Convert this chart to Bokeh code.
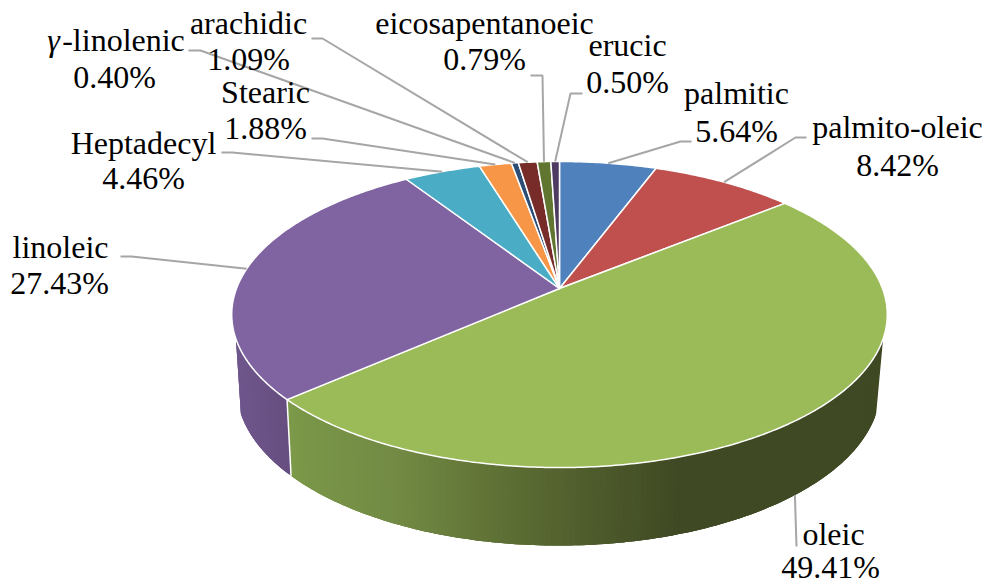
import numpy as np
from bokeh.plotting import figure
from bokeh.models import Range1d
from bokeh.core.properties import value
from bokeh.embed import file_html
from bokeh.resources import INLINE

names = ["palmitic", "palmito-oleic", "oleic", "linoleic", "Heptadecyl", "Stearic",
         "-linolenic", "arachidic", "eicosapentanoeic", "erucic"]
values = [5.64, 8.42, 49.41, 27.43, 4.46, 1.88, 0.40, 1.09, 0.79, 0.50]
labels = ["5.64%", "8.42%", "49.41%", "27.43%", "4.46%", "1.88%", "0.40%", "1.09%", "0.79%", "0.50%"]
colors = ["#4F81BD", "#C0504D", "#9BBB59", "#8064A2", "#4BACC6", "#F79646",
          "#2C4D75", "#772C2A", "#5F7530", "#4D3B62"]

# layout: label centres and baselines (name line, value line)
name_pos = [(736, 103), (897, 137), (833, 544), (60, 257), (143, 153), (265, 102),
            (123, 50), (248, 33), (484, 33), (627, 55)]
value_pos = [(736, 141), (897, 175), (830, 577), (59, 293), (143, 188), (265, 138),
             (114, 87), (248, 69), (484, 69), (627, 92)]
# layout: leader line label end and elbow
lead_end = [(691, 141), (806, 137), (796, 546), (120, 256), (221, 152), (311, 138),
            (188, 50), (311, 38), (530, 75), (582, 93)]
lead_elbow = [(680, 141), (795, 137), (796, 546), (131, 256), (232, 152), (322, 138),
              (200, 50), (322, 38), (542, 75), (570, 93)]

APEX = (559.0, 288.0)
SX, SY, K = 323.0, 148.6, 0.17
TOP = (559.0, 314.0, 328.0, 153.0)
BOT = (558.0, 388.0, 322.0, 157.0)
EY_MIN = 0.157
GREEN_X = [290, 300, 400, 500, 583, 680, 890]
GREEN_RGB = [(124, 155, 74), (122, 151, 72), (114, 138, 68), (95, 113, 53), (80, 94, 45), (63, 73, 35), (63, 73, 35)]
PURPLE_X = [230, 290]
PURPLE_RGB = [(112, 88, 142), (103, 78, 128)]
TEXT_SHIFT = -11


def top_pt(pct):
    t = np.radians(np.asarray(pct, dtype=float) * 3.6)
    x, y = np.sin(t), np.cos(t)
    d = 1 + K * y
    return APEX[0] + SX * x / d, APEX[1] - SY * y / d


def to_bottom(px, py):
    ex = (px - TOP[0]) / TOP[2]
    ey = (py - TOP[1]) / TOP[3]
    return BOT[0] + BOT[2] * ex, BOT[1] + BOT[3] * ey


def shade(x, xs, rgb):
    c = [int(round(np.interp(x, xs, [v[i] for v in rgb]))) for i in range(3)]
    return "#%02x%02x%02x" % tuple(c)


total = sum(values)
scale = 100.0 / total
cum = np.concatenate([[0], np.cumsum(values)]) * scale

W, H = 985, 585
p = figure(width=W, height=H, output_backend="svg", toolbar_location=None,
           x_range=Range1d(0, W), y_range=Range1d(H, 0), min_border=0)
p.axis.visible = False
p.grid.visible = False
p.outline_line_color = None
p.background_fill_color = "white"

# side wall: oleic and linoleic only are visible; each quad overlaps the next
xs_q, ys_q, col_q = [], [], []
for idx, gx, grgb in [(3, PURPLE_X, PURPLE_RGB), (2, GREEN_X, GREEN_RGB)]:
    ts = np.linspace(cum[idx], cum[idx + 1], 200)
    px, py = top_pt(ts)
    keep = (py - TOP[1]) / TOP[3] >= EY_MIN
    px, py = px[keep], py[keep]
    qx, qy = to_bottom(px, py)
    for i in range(len(px) - 1):
        j = min(i + 3, len(px) - 1)
        xs_q.append(list(px[i:j + 1]) + list(qx[i:j + 1][::-1]))
        ys_q.append(list(py[i:j + 1]) + list(qy[i:j + 1][::-1]))
        col_q.append(shade((px[i] + qx[i]) / 2, gx, grgb))
p.patches(xs_q, ys_q, fill_color=col_q, line_color=None)

# separator between the two side walls
sx, sy = top_pt(cum[3])
bx, by = to_bottom(sx, sy)
p.line([sx, bx], [sy, by], line_color="white", line_width=1.5)

# top face
xs_t, ys_t = [], []
for i in range(len(values)):
    ts = np.linspace(cum[i], cum[i + 1], max(4, int(values[i] * 6)))
    ax, ay = top_pt(ts)
    xs_t.append([APEX[0]] + list(ax))
    ys_t.append([APEX[1]] + list(ay))
p.patches(xs_t, ys_t, fill_color=colors, line_color="white", line_width=1.5, line_join="round")

# leader lines
xs_l, ys_l = [], []
for i in range(len(values)):
    mid = (cum[i] + cum[i + 1]) / 2
    ax, ay = top_pt(mid)
    if (ay - TOP[1]) / TOP[3] >= EY_MIN:
        ax, ay = to_bottom(ax, ay)
    xs_l.append([lead_end[i][0], lead_elbow[i][0], ax])
    ys_l.append([lead_end[i][1], lead_elbow[i][1], ay])
p.multi_line(xs_l, ys_l, line_color="#A6A6A6", line_width=2)

font = value("Liberation Serif")
size = value("32px")
p.text([q[0] for q in name_pos], [q[1] for q in name_pos], text=names, text_font=font, y_offset=TEXT_SHIFT,
       text_font_size=size, text_align="center", text_baseline="alphabetic", text_color="#000000")
p.text([q[0] for q in value_pos], [q[1] for q in value_pos], text=labels, text_font=font, y_offset=TEXT_SHIFT,
       text_font_size=size, text_align="center", text_baseline="alphabetic", text_color="#000000")
p.text([53], [50], text=["\u03b3"], text_font=font, text_font_style="italic", y_offset=TEXT_SHIFT,
       text_font_size=size, text_align="center", text_baseline="alphabetic", text_color="#000000")

open("out.html", "w").write(file_html(p, INLINE))
